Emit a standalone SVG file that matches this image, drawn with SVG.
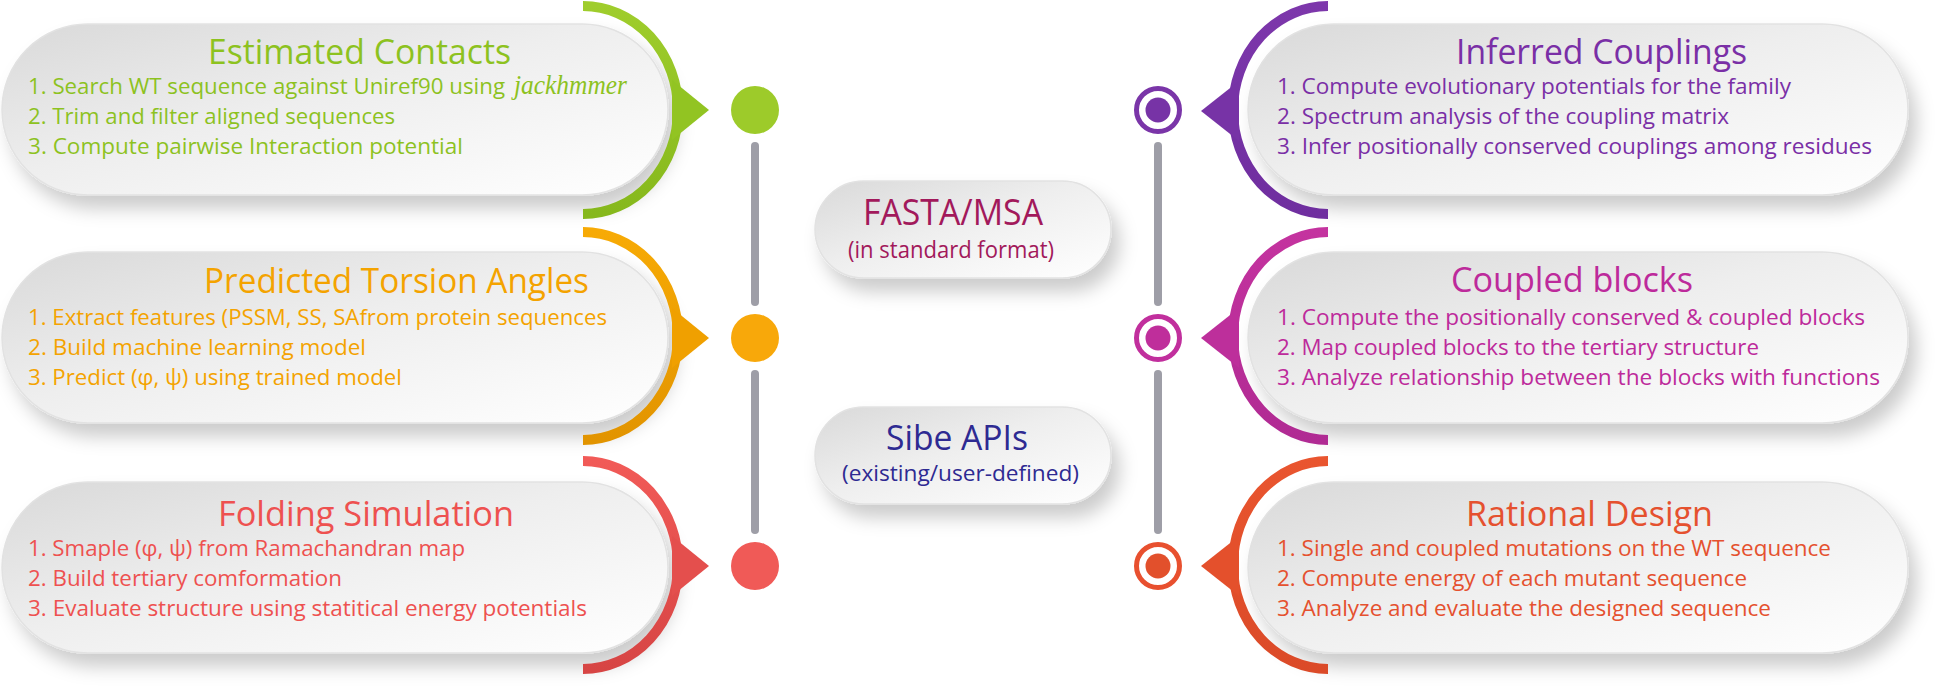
<svg xmlns="http://www.w3.org/2000/svg" width="1946" height="687" viewBox="0 0 1946 687">
<defs>
<linearGradient id="cardG" x1="0" y1="0" x2="1" y2="1">
<stop offset="0" stop-color="#d9d9d9"/>
<stop offset="0.45" stop-color="#eeeeee"/>
<stop offset="1" stop-color="#ffffff"/>
</linearGradient>
<filter id="sh" x="-10%" y="-20%" width="125%" height="160%">
<feDropShadow dx="8" dy="13" stdDeviation="9" flood-color="#000" flood-opacity="0.2"/>
</filter>
<linearGradient id="gGreen" x1="0" y1="0" x2="0" y2="1"><stop offset="0" stop-color="#9fcd2c"/><stop offset="1" stop-color="#86b81c"/></linearGradient>
<linearGradient id="gOrange" x1="0" y1="0" x2="0" y2="1"><stop offset="0" stop-color="#f7aa05"/><stop offset="1" stop-color="#e29400"/></linearGradient>
<linearGradient id="gRed" x1="0" y1="0" x2="0" y2="1"><stop offset="0" stop-color="#f15a57"/><stop offset="1" stop-color="#d74544"/></linearGradient>
<linearGradient id="gPurple" x1="0" y1="0" x2="0" y2="1"><stop offset="0" stop-color="#7d37ab"/><stop offset="1" stop-color="#6f2e9f"/></linearGradient>
<linearGradient id="gMag" x1="0" y1="0" x2="0" y2="1"><stop offset="0" stop-color="#c4339f"/><stop offset="1" stop-color="#b02a93"/></linearGradient>
<linearGradient id="gOR" x1="0" y1="0" x2="0" y2="1"><stop offset="0" stop-color="#e9552f"/><stop offset="1" stop-color="#db4a28"/></linearGradient>
</defs>
<style>
.card{fill:url(#cardG);stroke:#e2e2e2;stroke-width:1.5;filter:url(#sh)}
.t{font-family:"Open Sans","Liberation Sans",sans-serif;font-weight:500}
.ttl{font-size:34px}
.ln{font-size:22.5px}
.it{font-family:"Liberation Serif",serif;font-style:italic;font-weight:400;font-size:27px}
.arc{fill:none;stroke-width:10}
.bar{stroke:#9e9ea7;stroke-width:8;stroke-linecap:round}
.ring{fill:#fff;stroke-width:5}
</style>

<g id="connectors">
<line class="bar" x1="755" y1="146" x2="755" y2="302"/>
<line class="bar" x1="755" y1="374" x2="755" y2="530"/>
<line class="bar" x1="1158" y1="146" x2="1158" y2="302"/>
<line class="bar" x1="1158" y1="374" x2="1158" y2="530"/>
</g>

<g id="estimated-contacts">
<rect class="card" x="2" y="24" width="666" height="171" rx="85.5"/>
<path class="arc" stroke="url(#gGreen)" d="M583 6 A95 104 0 0 1 583 214"/>
<path fill="#92c422" d="M672 80 L709 110 L672 140 Z"/>
<circle cx="755" cy="110" r="24" fill="#9dcb2a"/>
<g class="t" fill="#8dc21f">
<text class="ttl" x="208" y="64" textLength="303" lengthAdjust="spacingAndGlyphs">Estimated Contacts</text>
<text class="ln" x="28" y="94" textLength="477" lengthAdjust="spacingAndGlyphs">1. Search WT sequence against Uniref90 using</text>
<text class="it" x="514" y="94" textLength="113" lengthAdjust="spacingAndGlyphs">jackhmmer</text>
<text class="ln" x="28" y="124" textLength="367" lengthAdjust="spacingAndGlyphs">2. Trim and filter aligned sequences</text>
<text class="ln" x="28" y="154" textLength="435" lengthAdjust="spacingAndGlyphs">3. Compute pairwise Interaction potential</text>
</g>
</g>

<g id="predicted-torsion-angles">
<rect class="card" x="2" y="252" width="666" height="171" rx="85.5"/>
<path class="arc" stroke="url(#gOrange)" d="M583 232 A95 104 0 0 1 583 440"/>
<path fill="#f0a000" d="M672 308 L709 338 L672 368 Z"/>
<circle cx="755" cy="338" r="24" fill="#f8a80a"/>
<g class="t" fill="#f4a300">
<text class="ttl" x="204" y="293" textLength="385" lengthAdjust="spacingAndGlyphs">Predicted Torsion Angles</text>
<text class="ln" x="28" y="325" textLength="579" lengthAdjust="spacingAndGlyphs">1. Extract features (PSSM, SS, SAfrom protein sequences</text>
<text class="ln" x="28" y="355" textLength="338" lengthAdjust="spacingAndGlyphs">2. Build machine learning model</text>
<text class="ln" x="28" y="385" textLength="374" lengthAdjust="spacingAndGlyphs">3. Predict (φ, ψ) using trained model</text>
</g>
</g>

<g id="folding-simulation">
<rect class="card" x="2" y="482" width="666" height="171" rx="85.5"/>
<path class="arc" stroke="url(#gRed)" d="M583 461 A95 104 0 0 1 583 669"/>
<path fill="#e44f4d" d="M672 536 L709 566 L672 596 Z"/>
<circle cx="755" cy="566" r="24" fill="#f05a57"/>
<g class="t" fill="#ee5150">
<text class="ttl" x="218" y="526" textLength="296" lengthAdjust="spacingAndGlyphs">Folding Simulation</text>
<text class="ln" x="28" y="556" textLength="437" lengthAdjust="spacingAndGlyphs">1. Smaple (φ, ψ) from Ramachandran map</text>
<text class="ln" x="28" y="586" textLength="314" lengthAdjust="spacingAndGlyphs">2. Build tertiary comformation</text>
<text class="ln" x="28" y="616" textLength="559" lengthAdjust="spacingAndGlyphs">3. Evaluate structure using statitical energy potentials</text>
</g>
</g>

<g id="inferred-couplings">
<rect class="card" x="1248" y="24" width="660" height="171" rx="85.5"/>
<path class="arc" stroke="url(#gPurple)" d="M1328 6 A95 104 0 0 0 1328 214"/>
<path fill="#7733a6" d="M1239 81 L1201 111 L1239 141 Z"/>
<circle class="ring" cx="1158" cy="110" r="21.5" stroke="#7a35a8"/>
<circle cx="1158" cy="110" r="12.5" fill="#7733a6"/>
<g class="t" fill="#7a2fa6">
<text class="ttl" x="1456" y="64" textLength="291" lengthAdjust="spacingAndGlyphs">Inferred Couplings</text>
<text class="ln" x="1277" y="94" textLength="514" lengthAdjust="spacingAndGlyphs">1. Compute evolutionary potentials for the family</text>
<text class="ln" x="1277" y="124" textLength="452" lengthAdjust="spacingAndGlyphs">2. Spectrum analysis of the coupling matrix</text>
<text class="ln" x="1277" y="154" textLength="595" lengthAdjust="spacingAndGlyphs">3. Infer positionally conserved couplings among residues</text>
</g>
</g>

<g id="coupled-blocks">
<rect class="card" x="1248" y="252" width="660" height="171" rx="85.5"/>
<path class="arc" stroke="url(#gMag)" d="M1328 232 A95 104 0 0 0 1328 440"/>
<path fill="#bd2f9b" d="M1239 308 L1201 338 L1239 368 Z"/>
<circle class="ring" cx="1158" cy="338" r="21.5" stroke="#c12f9d"/>
<circle cx="1158" cy="338" r="12.5" fill="#bf2e9b"/>
<g class="t" fill="#bd2a9b">
<text class="ttl" x="1451" y="292" textLength="242" lengthAdjust="spacingAndGlyphs">Coupled blocks</text>
<text class="ln" x="1277" y="325" textLength="588" lengthAdjust="spacingAndGlyphs">1. Compute the positionally conserved &amp; coupled blocks</text>
<text class="ln" x="1277" y="355" textLength="482" lengthAdjust="spacingAndGlyphs">2. Map coupled blocks to the tertiary structure</text>
<text class="ln" x="1277" y="385" textLength="603" lengthAdjust="spacingAndGlyphs">3. Analyze relationship between the blocks with functions</text>
</g>
</g>

<g id="rational-design">
<rect class="card" x="1248" y="482" width="660" height="171" rx="85.5"/>
<path class="arc" stroke="url(#gOR)" d="M1328 461 A95 104 0 0 0 1328 669"/>
<path fill="#e4502c" d="M1239 536 L1201 566 L1239 596 Z"/>
<circle class="ring" cx="1158" cy="566" r="21.5" stroke="#e8502f"/>
<circle cx="1158" cy="566" r="12.5" fill="#e2502c"/>
<g class="t" fill="#e5512f">
<text class="ttl" x="1466" y="526" textLength="247" lengthAdjust="spacingAndGlyphs">Rational Design</text>
<text class="ln" x="1277" y="556" textLength="554" lengthAdjust="spacingAndGlyphs">1. Single and coupled mutations on the WT sequence</text>
<text class="ln" x="1277" y="586" textLength="470" lengthAdjust="spacingAndGlyphs">2. Compute energy of each mutant sequence</text>
<text class="ln" x="1277" y="616" textLength="494" lengthAdjust="spacingAndGlyphs">3. Analyze and evaluate the designed sequence</text>
</g>
</g>

<g id="fasta-msa">
<rect class="card" x="815" y="181" width="296" height="97" rx="48.5"/>
<g class="t" fill="#a2195b">
<text x="863" y="225" font-size="36" textLength="180" lengthAdjust="spacingAndGlyphs">FASTA/MSA</text>
<text x="848" y="258" font-size="23" textLength="206" lengthAdjust="spacingAndGlyphs">(in standard format)</text>
</g>
</g>

<g id="sibe-apis">
<rect class="card" x="815" y="407" width="296" height="97" rx="48.5"/>
<g class="t" fill="#2e2a92">
<text x="886" y="450" font-size="35" textLength="142" lengthAdjust="spacingAndGlyphs">Sibe APIs</text>
<text x="842" y="481" font-size="22" textLength="237" lengthAdjust="spacingAndGlyphs">(existing/user-defined)</text>
</g>
</g>
</svg>
